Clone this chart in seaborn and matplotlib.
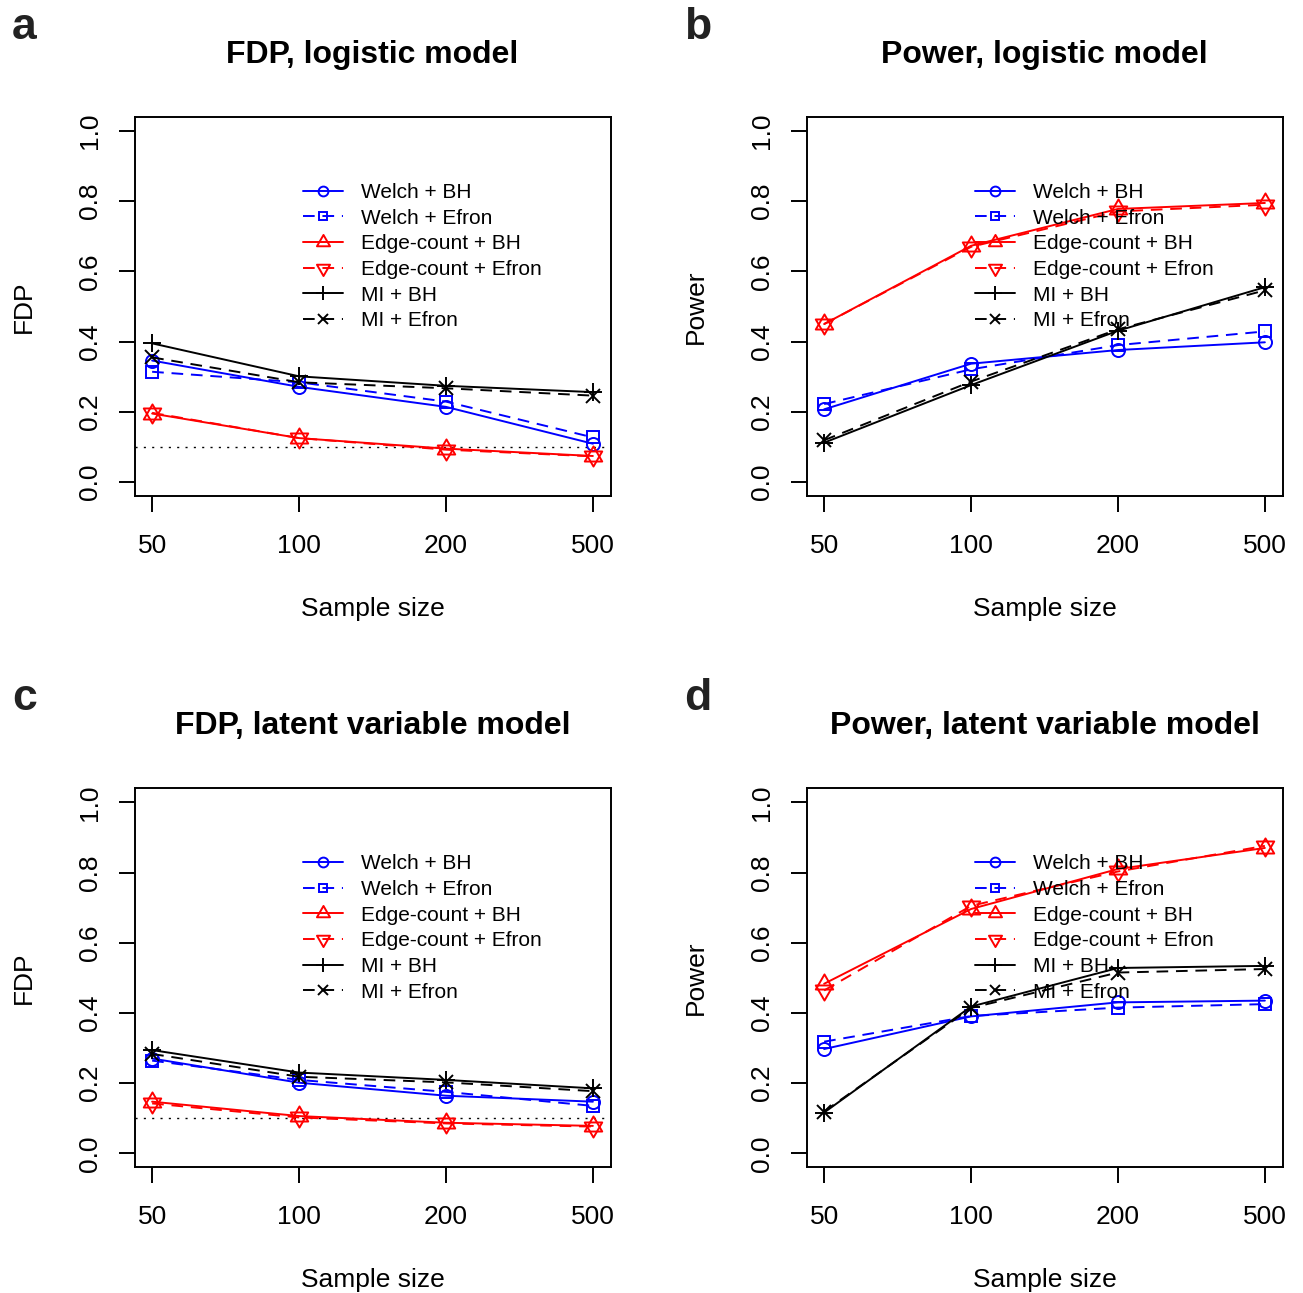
import matplotlib
matplotlib.use("Agg")
import matplotlib.pyplot as plt
from matplotlib.path import Path
import seaborn as sns
import numpy as np

# Sample sizes on the x axis (equally spaced categories)
sizes = ["50", "100", "200", "500"]

# Panel a: FDP, logistic model
welch_bh_a = [0.346, 0.271, 0.214, 0.109]
welch_efron_a = [0.314, 0.284, 0.229, 0.127]
edge_bh_a = [0.195, 0.125, 0.095, 0.074]
edge_efron_a = [0.197, 0.125, 0.092, 0.073]
mi_bh_a = [0.395, 0.301, 0.274, 0.256]
mi_efron_a = [0.355, 0.284, 0.267, 0.246]

# Panel b: Power, logistic model
welch_bh_b = [0.207, 0.337, 0.376, 0.398]
welch_efron_b = [0.222, 0.321, 0.390, 0.429]
edge_bh_b = [0.450, 0.673, 0.778, 0.795]
edge_efron_b = [0.450, 0.670, 0.771, 0.790]
mi_bh_b = [0.112, 0.276, 0.431, 0.555]
mi_efron_b = [0.119, 0.286, 0.435, 0.546]

# Panel c: FDP, latent variable model
welch_bh_c = [0.270, 0.201, 0.164, 0.147]
welch_efron_c = [0.264, 0.209, 0.175, 0.135]
edge_bh_c = [0.147, 0.106, 0.087, 0.078]
edge_efron_c = [0.142, 0.102, 0.085, 0.076]
mi_bh_c = [0.294, 0.230, 0.209, 0.185]
mi_efron_c = [0.283, 0.218, 0.202, 0.177]

# Panel d: Power, latent variable model
welch_bh_d = [0.297, 0.390, 0.430, 0.435]
welch_efron_d = [0.318, 0.391, 0.415, 0.425]
edge_bh_d = [0.483, 0.696, 0.810, 0.870]
edge_efron_d = [0.464, 0.705, 0.803, 0.876]
mi_bh_d = [0.116, 0.418, 0.528, 0.534]
mi_efron_d = [0.119, 0.414, 0.515, 0.525]

methods = ["Welch + BH", "Welch + Efron", "Edge-count + BH",
           "Edge-count + Efron", "MI + BH", "MI + Efron"]
y_ticks = [0.0, 0.2, 0.4, 0.6, 0.8, 1.0]
fdp_level = 0.1

sns.set_style("white")
plt.rcParams["font.family"] = ["Liberation Sans", "DejaVu Sans"]
plt.rcParams.update({
    "text.color": "black",
    "axes.labelcolor": "black",
    "xtick.color": "black",
    "ytick.color": "black",
    "axes.edgecolor": "black",
})

LW = 1.4
TRI_UP = Path([(0, 1), (-0.866, -0.5), (0.866, -0.5), (0, 1)], closed=True)
TRI_DN = Path([(0, -1), (-0.866, 0.5), (0.866, 0.5), (0, -1)], closed=True)
DASH = (0, (6, 4))
styles = {
    "Welch + BH": dict(color="#0000FF", ls="-", marker="o", ms=9.4),
    "Welch + Efron": dict(color="#0000FF", ls=DASH, marker="s", ms=8.6),
    "Edge-count + BH": dict(color="#FF0000", ls="-", marker=TRI_UP, ms=14.5),
    "Edge-count + Efron": dict(color="#FF0000", ls=DASH, marker=TRI_DN, ms=14.5),
    "MI + BH": dict(color="#000000", ls="-", marker="+", ms=13.2),
    "MI + Efron": dict(color="#000000", ls=DASH, marker="x", ms=9.4),
}

panels = [
    ("a", "FDP, logistic model", "FDP",
     [welch_bh_a, welch_efron_a, edge_bh_a, edge_efron_a, mi_bh_a, mi_efron_a], True),
    ("b", "Power, logistic model", "Power",
     [welch_bh_b, welch_efron_b, edge_bh_b, edge_efron_b, mi_bh_b, mi_efron_b], False),
    ("c", "FDP, latent variable model", "FDP",
     [welch_bh_c, welch_efron_c, edge_bh_c, edge_efron_c, mi_bh_c, mi_efron_c], True),
    ("d", "Power, latent variable model", "Power",
     [welch_bh_d, welch_efron_d, edge_bh_d, edge_efron_d, mi_bh_d, mi_efron_d], False),
]

W, H = 1303, 1293
fig = plt.figure(figsize=(W / 100, H / 100), dpi=100)

ax_w, ax_h = 476, 379
origins = [(134.5, 117), (806.5, 117), (134.5, 788.3), (806.5, 788.3)]

xpos = np.arange(len(sizes))

for (letter, title, ylab, series, show_level), (px, py) in zip(panels, origins):
    ax = fig.add_axes([px / W, 1 - (py + ax_h) / H, ax_w / W, ax_h / H])
    for name, vals in zip(methods, series):
        st = styles[name]
        sns.lineplot(x=xpos, y=vals, ax=ax, color=st["color"], linestyle=st["ls"],
                     linewidth=LW, marker=st["marker"], markersize=st["ms"],
                     markerfacecolor="none", markeredgecolor=st["color"],
                     markeredgewidth=LW, label=name, errorbar=None)
    if show_level:
        ax.axhline(fdp_level, color="black", lw=1.0, ls=(0, (1.5, 4.5)), zorder=1)

    ax.set_xlim(-0.12, 3.12)
    ax.set_ylim(-0.04, 1.04)
    ax.set_xticks(xpos)
    ax.set_xticklabels(sizes)
    ax.set_yticks(y_ticks)
    ax.set_yticklabels([f"{t:.1f}" for t in y_ticks], rotation=90, va="center")
    ax.tick_params(axis="both", direction="out", length=11.3, width=LW,
                   labelsize=19, colors="black", bottom=True, left=True)
    ax.tick_params(axis="x", pad=16)
    ax.tick_params(axis="y", pad=12)
    for sp in ax.spines.values():
        sp.set_visible(True)
        sp.set_color("black")
        sp.set_linewidth(LW)

    ax.set_xlabel("Sample size", fontsize=19)
    ax.xaxis.set_label_coords(0.5, -0.267)
    ax.set_ylabel(ylab, fontsize=19)
    ax.yaxis.set_label_coords(-0.207, 0.5)
    ax.set_title(title, fontsize=23, fontweight="bold", y=1.1433, va="baseline", pad=0)

    ax.legend(loc="upper left", bbox_to_anchor=(0.354, 0.826), borderaxespad=0,
              borderpad=0, handlelength=1.92, handletextpad=0.87, labelspacing=0.32,
              fontsize=15, frameon=False, markerscale=0.75)

    fig.text((px - 122.5) / W, 1 - (py - 78) / H, letter, fontsize=32,
             fontweight="bold", color="#222222", ha="left", va="baseline")

fig.savefig("out.png", dpi=100)
